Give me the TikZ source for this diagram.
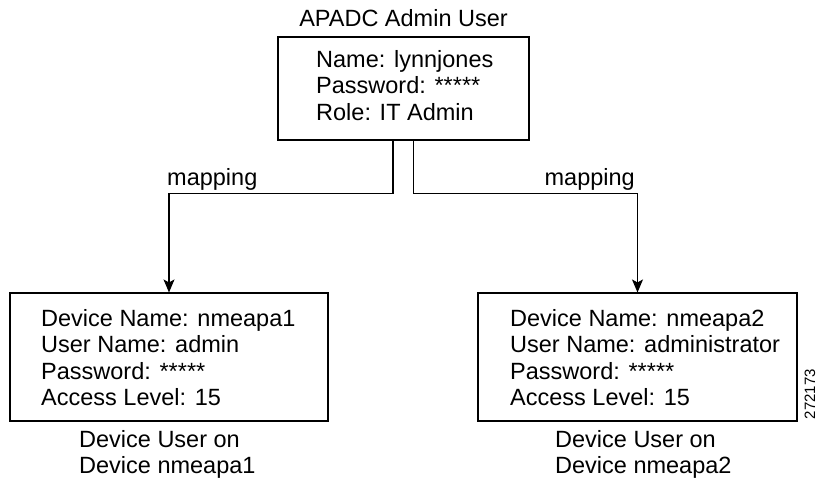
\documentclass[tikz,border=0pt]{standalone}
\usepackage{fontspec}
\setmainfont{Liberation Sans}
\usetikzlibrary{arrows.meta}
\tikzset{
  box/.style={draw, line width=1.1pt, inner sep=0pt},
  txt/.style={inner sep=0pt, align=left, font=\fontsize{23.5}{26.5}\selectfont, anchor=base west},
  conn/.style={line width=1.1pt},
  arr/.style={conn, -{Stealth[length=13pt,width=11pt,inset=3pt]}},
  tag/.style={inner sep=0pt, font=\fontsize{15}{15}\selectfont, rotate=90}
}
\begin{document}
\begin{tikzpicture}[x=1pt,y=-1pt]
\useasboundingbox (0,0) rectangle (817,479);
% top
\node[txt, anchor=base] (title) at (403.5,26) {APADC Admin User};
\node[box, minimum width=251pt, minimum height=103pt] (admin) at (403.5,88.5) {};
\node[txt] (admintxt) at (316,120) {Name: lynnjones\\Password: *****\\Role: IT Admin};
% device boxes
\node[box, minimum width=318pt, minimum height=128pt] (dev1) at (169,357) {};
\node[txt] (dev1txt) at (41,405.5) {Device Name: nmeapa1\\User Name: admin\\Password: *****\\Access Level: 15};
\node[box, minimum width=319pt, minimum height=128pt] (dev2) at (637.5,357) {};
\node[txt] (dev2txt) at (510,405.5) {Device Name: nmeapa2\\User Name: administrator\\Password: *****\\Access Level: 15};
% captions
\node[txt] (cap1) at (79,473.5) {Device User on\\Device nmeapa1};
\node[txt] (cap2) at (555,473.5) {Device User on\\Device nmeapa2};
% connectors
\draw[arr] ([xshift=-10.5pt]admin.south) -- ++(0,53) coordinate (c1) -| (dev1.north);
\draw[arr] ([xshift=10pt]admin.south) -- ++(0,53) coordinate (c2) -| (dev2.north);
\node[txt] (map1) at (167,185) {mapping};
\node[txt, anchor=base east] (map2) at (635,185) {mapping};
% figure number
\node[tag] (fignum) at (810,394) {272173};
\end{tikzpicture}
\end{document}
